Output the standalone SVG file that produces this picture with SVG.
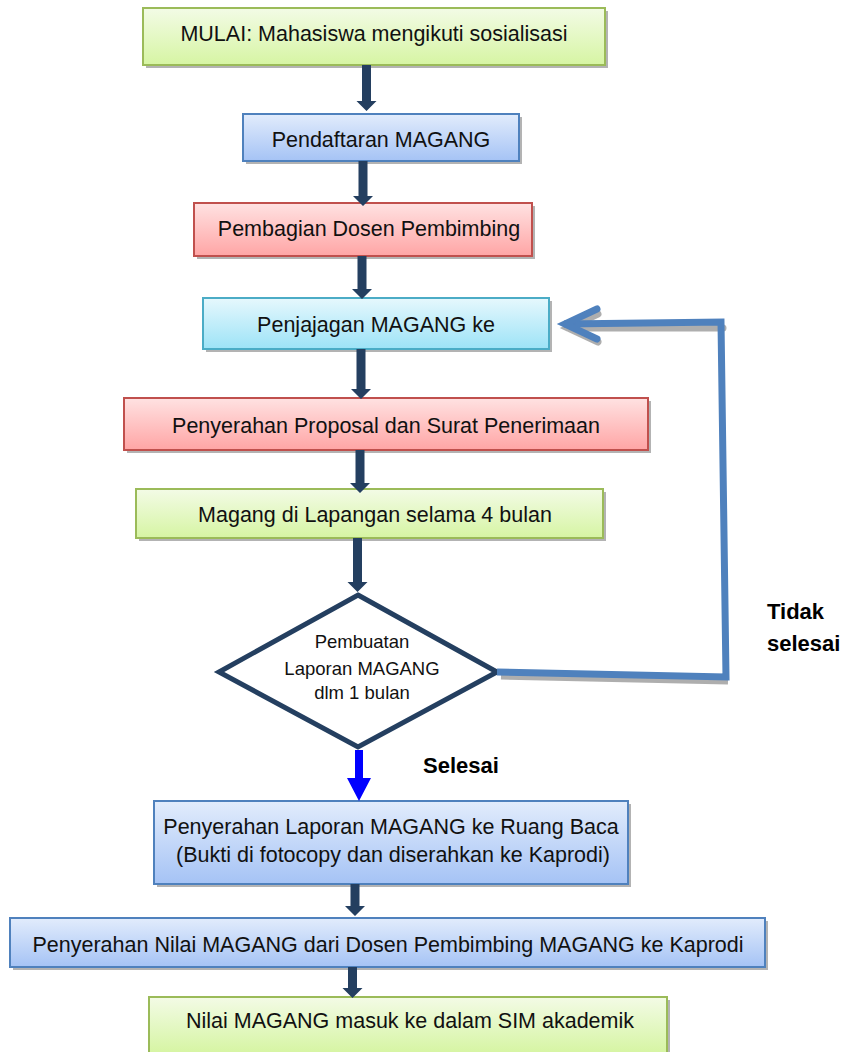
<svg xmlns="http://www.w3.org/2000/svg" width="845" height="1052" viewBox="0 0 845 1052">
<defs>
<linearGradient id="gGreen" x1="0" y1="0" x2="0" y2="1"><stop offset="0" stop-color="#f3fbe6"/><stop offset="1" stop-color="#d6f5a3"/></linearGradient>
<linearGradient id="gBlue" x1="0" y1="0" x2="0" y2="1"><stop offset="0" stop-color="#e2ecfc"/><stop offset="1" stop-color="#a5c3f5"/></linearGradient>
<linearGradient id="gRed" x1="0" y1="0" x2="0" y2="1"><stop offset="0" stop-color="#ffe2e2"/><stop offset="1" stop-color="#ffa5a5"/></linearGradient>
<linearGradient id="gCyan" x1="0" y1="0" x2="0" y2="1"><stop offset="0" stop-color="#e6f8fd"/><stop offset="1" stop-color="#9de3f7"/></linearGradient>
</defs>
<style>
.sh{fill:#9a9a9a;opacity:0.75}
.green{fill:url(#gGreen);stroke:#9bbb59;stroke-width:2}
.blue{fill:url(#gBlue);stroke:#4f81bd;stroke-width:2}
.red{fill:url(#gRed);stroke:#c0504d;stroke-width:2}
.cyan{fill:url(#gCyan);stroke:#4bacc6;stroke-width:2}
.t{font-family:"Liberation Sans",Arial,sans-serif;font-size:21.5px;fill:#111;text-anchor:middle}
.td{font-family:"Liberation Sans",Arial,sans-serif;font-size:18.5px;fill:#111;text-anchor:middle}
.lb{font-family:"Liberation Sans",Arial,sans-serif;font-size:22px;font-weight:bold;fill:#000}
.dk{fill:#243f60}
.loop{fill:none;stroke:#4f81bd;stroke-width:7;stroke-linejoin:miter}
.loopsh{fill:none;stroke:#9a9a9a;stroke-width:7;opacity:0.8}
</style>

<g id="n1">
<rect class="sh" x="146" y="11" width="462" height="57"/>
<rect class="green" x="143" y="8" width="462" height="57"/>
<text class="t" x="374" y="41">MULAI: Mahasiswa mengikuti sosialisasi</text>
</g>
<g id="n2">
<rect class="sh" x="246" y="117" width="276" height="47"/>
<rect class="blue" x="243" y="114" width="276" height="47"/>
<text class="t" x="381" y="147">Pendaftaran MAGANG</text>
</g>
<g id="n3">
<rect class="sh" x="197" y="206" width="338" height="53"/>
<rect class="red" x="194" y="203" width="338" height="53"/>
<text class="t" x="369" y="236">Pembagian Dosen Pembimbing</text>
</g>
<g id="n4">
<rect class="sh" x="206" y="301" width="346" height="51"/>
<rect class="cyan" x="203" y="298" width="346" height="51"/>
<text class="t" x="376" y="332">Penjajagan MAGANG ke</text>
</g>
<g id="n5">
<rect class="sh" x="127" y="401" width="524" height="52"/>
<rect class="red" x="124" y="398" width="524" height="52"/>
<text class="t" x="386" y="433">Penyerahan Proposal dan Surat Penerimaan</text>
</g>
<g id="n6">
<rect class="sh" x="139" y="492" width="467" height="49"/>
<rect class="green" x="136" y="489" width="467" height="49"/>
<text class="t" x="375" y="522">Magang di Lapangan selama 4 bulan</text>
</g>
<g id="n7">
<polygon points="358,595 497,672 358,747 219,672" fill="#fff" stroke="#243f60" stroke-width="5" stroke-linejoin="miter"/>
<text class="td" x="362" y="648">Pembuatan</text>
<text class="td" x="362" y="675">Laporan MAGANG</text>
<text class="td" x="362" y="699">dlm 1 bulan</text>
</g>
<g id="n8">
<rect class="sh" x="157" y="804" width="474" height="83"/>
<rect class="blue" x="154" y="801" width="474" height="83"/>
<text class="t" x="391" y="834">Penyerahan Laporan MAGANG ke Ruang Baca</text>
<text class="t" x="393" y="862">(Bukti di fotocopy dan diserahkan ke Kaprodi)</text>
</g>
<g id="n9">
<rect class="sh" x="13" y="921" width="755" height="49"/>
<rect class="blue" x="10" y="918" width="755" height="49"/>
<text class="t" x="388" y="952" textLength="711" lengthAdjust="spacingAndGlyphs">Penyerahan Nilai MAGANG dari Dosen Pembimbing MAGANG ke Kaprodi</text>
</g>
<g id="n10">
<rect class="sh" x="152" y="1000" width="518" height="56"/>
<rect class="green" x="149" y="997" width="518" height="56"/>
<text class="t" x="410" y="1028">Nilai MAGANG masuk ke dalam SIM akademik</text>
</g>

<g id="connectors">
<path class="dk" d="M362,65 H371 V101 H376.5 L366.5,111 L356.5,101 H362 Z"/>
<path class="dk" d="M358.5,161 H367.5 V196 H373 L363,206 L353,196 H358.5 Z"/>
<path class="dk" d="M357.5,256 H366.5 V289 H372 L362,299 L352,289 H357.5 Z"/>
<path class="dk" d="M356.5,349 H365.5 V389 H371 L361,399 L351,389 H356.5 Z"/>
<path class="dk" d="M355.5,450 H364.5 V483 H370 L360,493 L350,483 H355.5 Z"/>
<path class="dk" d="M353,538 H362 V582 H367.5 L357.5,592 L347.5,582 H353 Z"/>
<path d="M355,750 H363 V778 H371 L359,801 L347,778 H355 Z" fill="#0000ff"/>
<path class="dk" d="M350.5,884 H359.5 V906 H365 L355,916 L345,906 H350.5 Z"/>
<path class="dk" d="M348,967 H357 V988 H362.5 L352.5,998 L342.5,988 H348 Z"/>
<g transform="translate(2,4)">
<path class="loopsh" d="M499,672 L726,677"/>
<path class="loopsh" d="M721,324 L566,324 M596,310 L566,324 L596,338" stroke-linecap="round"/>
</g>
<path class="loop" d="M497,672 L726,677 L721,322 L564,324"/>
<path class="loop" d="M597,309 L565,324 L597,339" stroke-linecap="round" stroke-linejoin="round"/>
</g>

<g id="labels">
<text class="lb" x="423" y="773">Selesai</text>
<text class="lb" x="767" y="619">Tidak</text>
<text class="lb" x="767" y="651">selesai</text>
</g>
</svg>
